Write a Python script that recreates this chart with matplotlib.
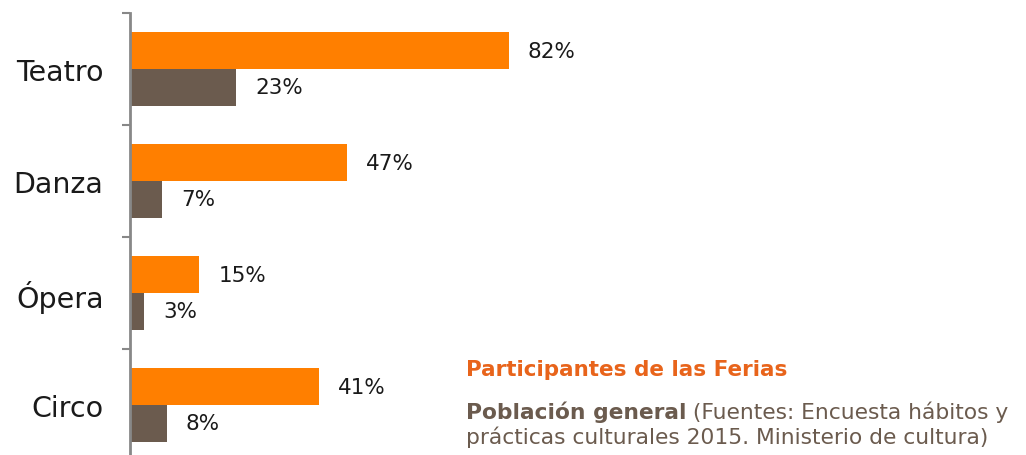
import matplotlib
matplotlib.use("Agg")
import matplotlib.pyplot as plt
import numpy as np

categories = ["Teatro", "Danza", "Ópera", "Circo"]
feria = [82, 47, 15, 41]
general = [23, 7, 3, 8]
label_feria = "Participantes de las Ferias"
label_general = "Población general"
source = " (Fuentes: Encuesta hábitos y"
source2 = "prácticas culturales 2015. Ministerio de cultura)"

ORANGE = "#FF7F00"
BROWN = "#6B5B4E"
TXT = "#1a1a1a"
FONT = "DejaVu Sans"
plt.rcParams['font.family'] = [FONT]

W, H = 1026, 456
fig = plt.figure(figsize=(W/100, H/100), dpi=100)
left_px, top_px, bot_px = 130, 14, 462
ax = fig.add_axes([left_px/W, (H-bot_px)/H, 1-left_px/W, (bot_px-top_px)/H])

px_per = 4.62
y = np.arange(len(categories))
h = 0.33
ax.barh(y - h/2, feria, height=h, color=ORANGE)
ax.barh(y + h/2, general, height=h, color=BROWN)
ax.set_xlim(0, (W-left_px)/px_per)
ax.set_ylim(len(categories)-0.5, -0.5)

for i, (a, b) in enumerate(zip(feria, general)):
    ax.annotate(f"{a}%", (a, i - h/2), xytext=(19, 0), textcoords="offset pixels",
                va="center", ha="left", fontsize=15.5, color=TXT)
    ax.annotate(f"{b}%", (b, i + h/2), xytext=(19, 0), textcoords="offset pixels",
                va="center", ha="left", fontsize=15.5, color=TXT)

for s in ["top", "right", "bottom"]:
    ax.spines[s].set_visible(False)
ax.spines["left"].set_color("#888888")
ax.spines["left"].set_linewidth(2)
ax.set_xticks([])
ax.set_yticks(np.arange(len(categories)+1) - 0.5)
ax.set_yticklabels([])
ax.tick_params(axis="y", which="major", length=6, width=1.5, color="#888888")
ax.set_yticks(y, minor=True)
ax.set_yticklabels(categories, minor=True, fontsize=20.5, color=TXT)
ax.tick_params(axis="y", which="minor", length=0, pad=19)

fs = 15.7
t1 = fig.text(466/W, 1-370/H, label_feria, color="#E8641B", fontsize=15.5,
              fontweight="bold", va="center", ha="left")
t2 = fig.text(466/W, 1-412/H, label_general, color=BROWN, fontsize=fs,
              fontweight="bold", va="center", ha="left")
fig.text(466/W, 1-437/H, source2, color=BROWN, fontsize=fs, va="center", ha="left")
ax.annotate(source, xy=(1, 0.5), xycoords=t2, va="center", ha="left",
            color=BROWN, fontsize=fs, annotation_clip=False)

fig.savefig("out.png", dpi=100)
